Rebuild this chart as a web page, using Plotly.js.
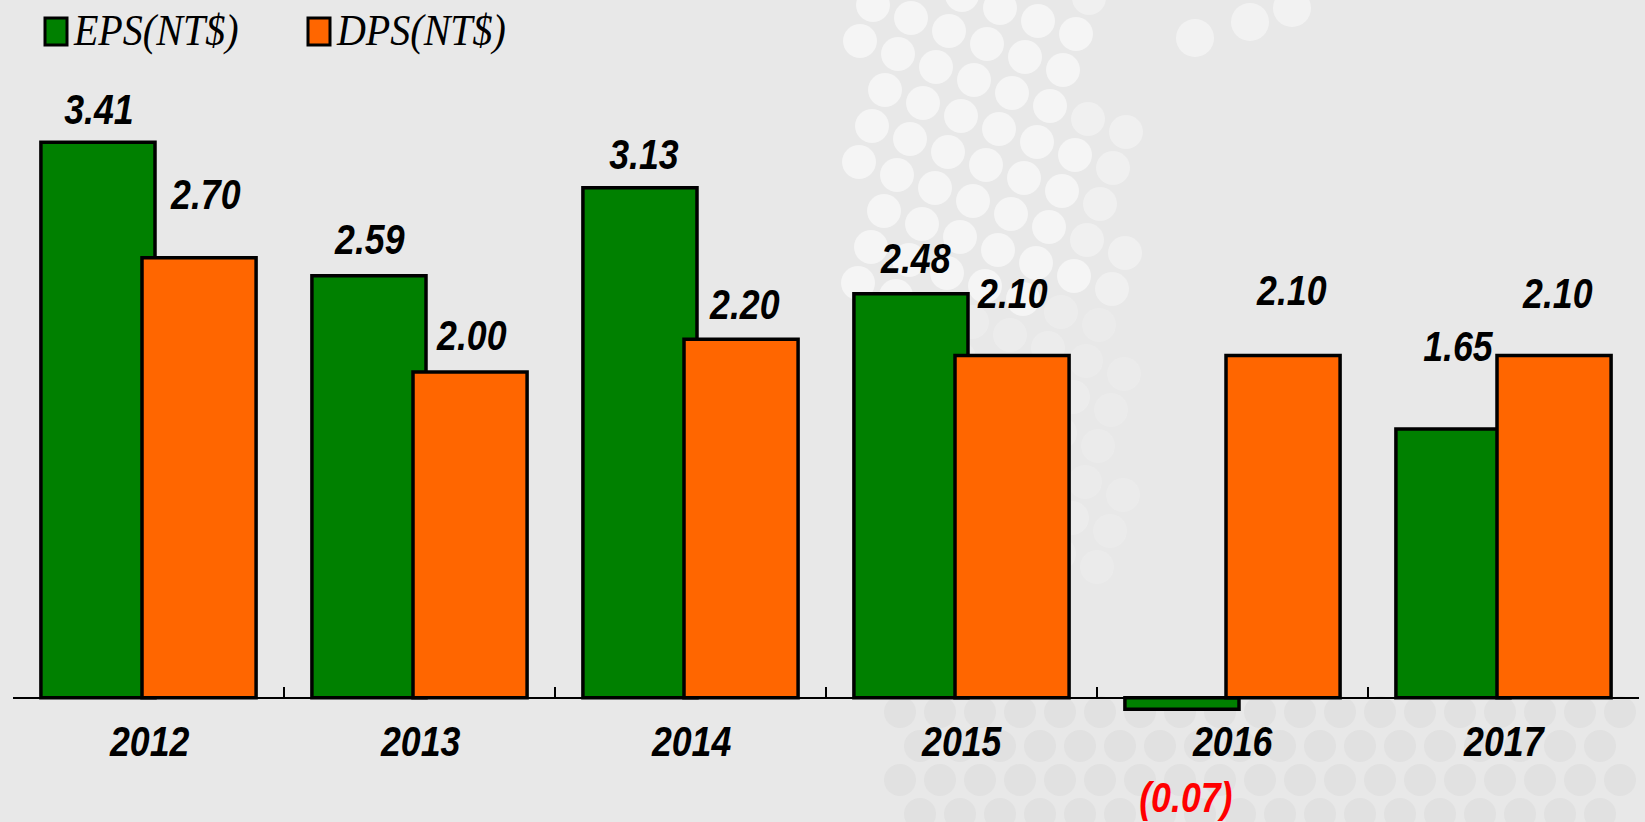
<!DOCTYPE html>
<html>
<head>
<meta charset="utf-8">
<script src="https://cdn.plot.ly/plotly-3.0.1.min.js"></script>
<style>
  html, body { margin: 0; padding: 0; background: #e8e8e8; }
  #chart { width: 1645px; height: 822px; }
</style>
</head>
<body>
<div id="chart"></div>
<script>
// ---- data ----
const categories = ['2012', '2013', '2014', '2015', '2016', '2017'];
const epsValues = [3.41, 2.59, 3.13, 2.48, -0.07, 1.65];
const dpsValues = [2.70, 2.00, 2.20, 2.10, 2.10, 2.10];
const epsLabels = ['3.41', '2.59', '3.13', '2.48', '(0.07)', '1.65'];
const dpsLabels = ['2.70', '2.00', '2.20', '2.10', '2.10', '2.10'];
const seriesNames = ['EPS(NT$)', 'DPS(NT$)'];

// ---- label placement (pixels) ----
const epsLabelDy = [33, 36, 33, 35, -88, 82];
const dpsLabelDy = [63, 36, 35, 62, 65, 62];
const epsLabelDx = [1, 1, 4, 5, 4, 5];
const dpsLabelDx = [6, 1, 3, 0, 8, 3];

const W = 1645, H = 822;
const M = { l: 13, r: 6, t: 46, b: 59 };
const PW = W - M.l - M.r, PH = H - M.t - M.b;
const CAT = PW / categories.length;
const yRange = [-0.4, 4.0];
const barW = 0.421;
const epsOffset = -0.397, dpsOffset = -0.024;
const epsCenterPx = (epsOffset + barW / 2) * CAT;
const dpsCenterPx = (dpsOffset + barW / 2) * CAT;

const GREEN = '#008000', ORANGE = '#ff6600';
const numFont = "'Liberation Sans', Arial, sans-serif";
const legFont = "'Liberation Serif', 'Times New Roman', serif";
const NUM_SCALE = 0.85, LEG_SCALE = 0.89;

const traces = [
  { type: 'bar', name: seriesNames[0], x: categories, y: epsValues,
    width: barW, offset: epsOffset,
    marker: { color: GREEN, line: { color: '#000', width: 3.5 } }, hoverinfo: 'x+y' },
  { type: 'bar', name: seriesNames[1], x: categories, y: dpsValues,
    width: barW, offset: dpsOffset,
    marker: { color: ORANGE, line: { color: '#000', width: 3.5 } }, hoverinfo: 'x+y' }
];

const annotations = [];
const annScale = [];
const numStyle = (color) => ({ family: numFont, size: 42, color: color, style: 'italic', weight: 'bold' });
categories.forEach((c, i) => {
  annotations.push({
    x: i, y: epsValues[i], xref: 'x', yref: 'y', text: epsLabels[i], showarrow: false,
    xanchor: 'center', yanchor: 'middle', xshift: epsCenterPx + epsLabelDx[i], yshift: epsLabelDy[i],
    font: numStyle(epsValues[i] < 0 ? '#ff0000' : '#000')
  });
  annScale.push([NUM_SCALE, 'center']);
  annotations.push({
    x: i, y: dpsValues[i], xref: 'x', yref: 'y', text: dpsLabels[i], showarrow: false,
    xanchor: 'center', yanchor: 'middle', xshift: dpsCenterPx + dpsLabelDx[i], yshift: dpsLabelDy[i],
    font: numStyle('#000')
  });
  annScale.push([NUM_SCALE, 'center']);
  // category (year) label under the axis
  annotations.push({
    x: i, y: 0, xref: 'x', yref: 'y', text: c, showarrow: false,
    xanchor: 'center', yanchor: 'middle', xshift: 0, yshift: -44,
    font: numStyle('#000')
  });
  annScale.push([NUM_SCALE, 'center']);
});

// custom legend
const px = x => (x - M.l) / PW;
const py = y => 1 - (y - M.t) / PH;
const legendItems = [
  { color: GREEN, x0: 45, text: seriesNames[0], tx: 71 },
  { color: ORANGE, x0: 308, text: seriesNames[1], tx: 334 }
];
const shapes = [];

// decorative background dots (soft white sphere pattern + faint grey dots)
function dot(cx, cy, r, color) {
  shapes.push({ type: 'circle', xref: 'paper', yref: 'paper', layer: 'below',
    x0: px(cx - r), x1: px(cx + r), y0: py(cy + r), y1: py(cy - r),
    fillcolor: color, line: { width: 0 } });
}
for (let r = -4; r < 20; r++) {
  for (let c = -2; c < 14; c++) {
    const x = 835 + c * 38 - r * 13;
    const y = -8 + r * 36 + c * 13;
    if (y < -10 || y > 600) continue;
    const xmax = y < 120 ? 1090 : 1130;
    const xmin = 850 + (y > 250 ? (y - 250) * 0.15 : 0);
    if (x < xmin || x > xmax) continue;
    let a = y < 300 ? 0.55 : 0.2;
    if (x > 1080) a = y < 300 ? 0.35 : 0.15;
    dot(x, y, 17, 'rgba(255,255,255,' + a + ')');
  }
}
[[1195, 38], [1250, 22], [1292, 8]].forEach(p => dot(p[0], p[1], 19, 'rgba(255,255,255,0.45)'));
for (let r = 0; r < 5; r++) {
  for (let c = 0; c < 20; c++) {
    const x = 900 + c * 40 + (r % 2) * 20;
    const y = 712 + r * 34;
    if (x > 1620) continue;
    dot(x, y, 16, 'rgba(200,200,200,0.22)');
  }
}

legendItems.forEach(it => {
  shapes.push({ type: 'rect', xref: 'paper', yref: 'paper',
    x0: px(it.x0), x1: px(it.x0 + 22), y0: py(45), y1: py(18),
    fillcolor: it.color, line: { color: '#000', width: 3 } });
  annotations.push({ xref: 'paper', yref: 'paper', x: px(it.tx), y: py(30),
    xanchor: 'left', yanchor: 'middle', showarrow: false, text: it.text,
    font: { family: legFont, size: 45, color: '#000', style: 'italic' } });
  annScale.push([LEG_SCALE, 'left']);
});

const layout = {
  width: W, height: H,
  margin: M,
  paper_bgcolor: '#e8e8e8',
  plot_bgcolor: 'rgba(0,0,0,0)',
  barmode: 'overlay',
  showlegend: false,
  xaxis: {
    type: 'category',
    range: [-0.5, categories.length - 0.5],
    anchor: 'free',
    position: (0 - yRange[0]) / (yRange[1] - yRange[0]),
    showline: true, linecolor: '#000', linewidth: 2,
    ticks: 'inside', tickson: 'boundaries', ticklen: 10, tickwidth: 1.5, tickcolor: '#000',
    showgrid: false, zeroline: false, showticklabels: false
  },
  yaxis: {
    range: yRange, showgrid: false, zeroline: false, showticklabels: false,
    showline: false, ticks: ''
  },
  annotations: annotations,
  shapes: shapes
};

Plotly.newPlot('chart', traces, layout, { displayModeBar: false, staticPlot: true }).then(gd => {
  gd.querySelectorAll('g.annotation').forEach(g => {
    const idx = +g.getAttribute('data-index');
    const t = g.querySelector('text.annotation-text');
    if (!t || !annScale[idx]) return;
    const [s, origin] = annScale[idx];
    t.style.transformBox = 'fill-box';
    t.style.transformOrigin = origin === 'left' ? '0% 50%' : '50% 50%';
    t.style.transform = 'scaleX(' + s + ')';
  });
});
</script>
</body>
</html>
